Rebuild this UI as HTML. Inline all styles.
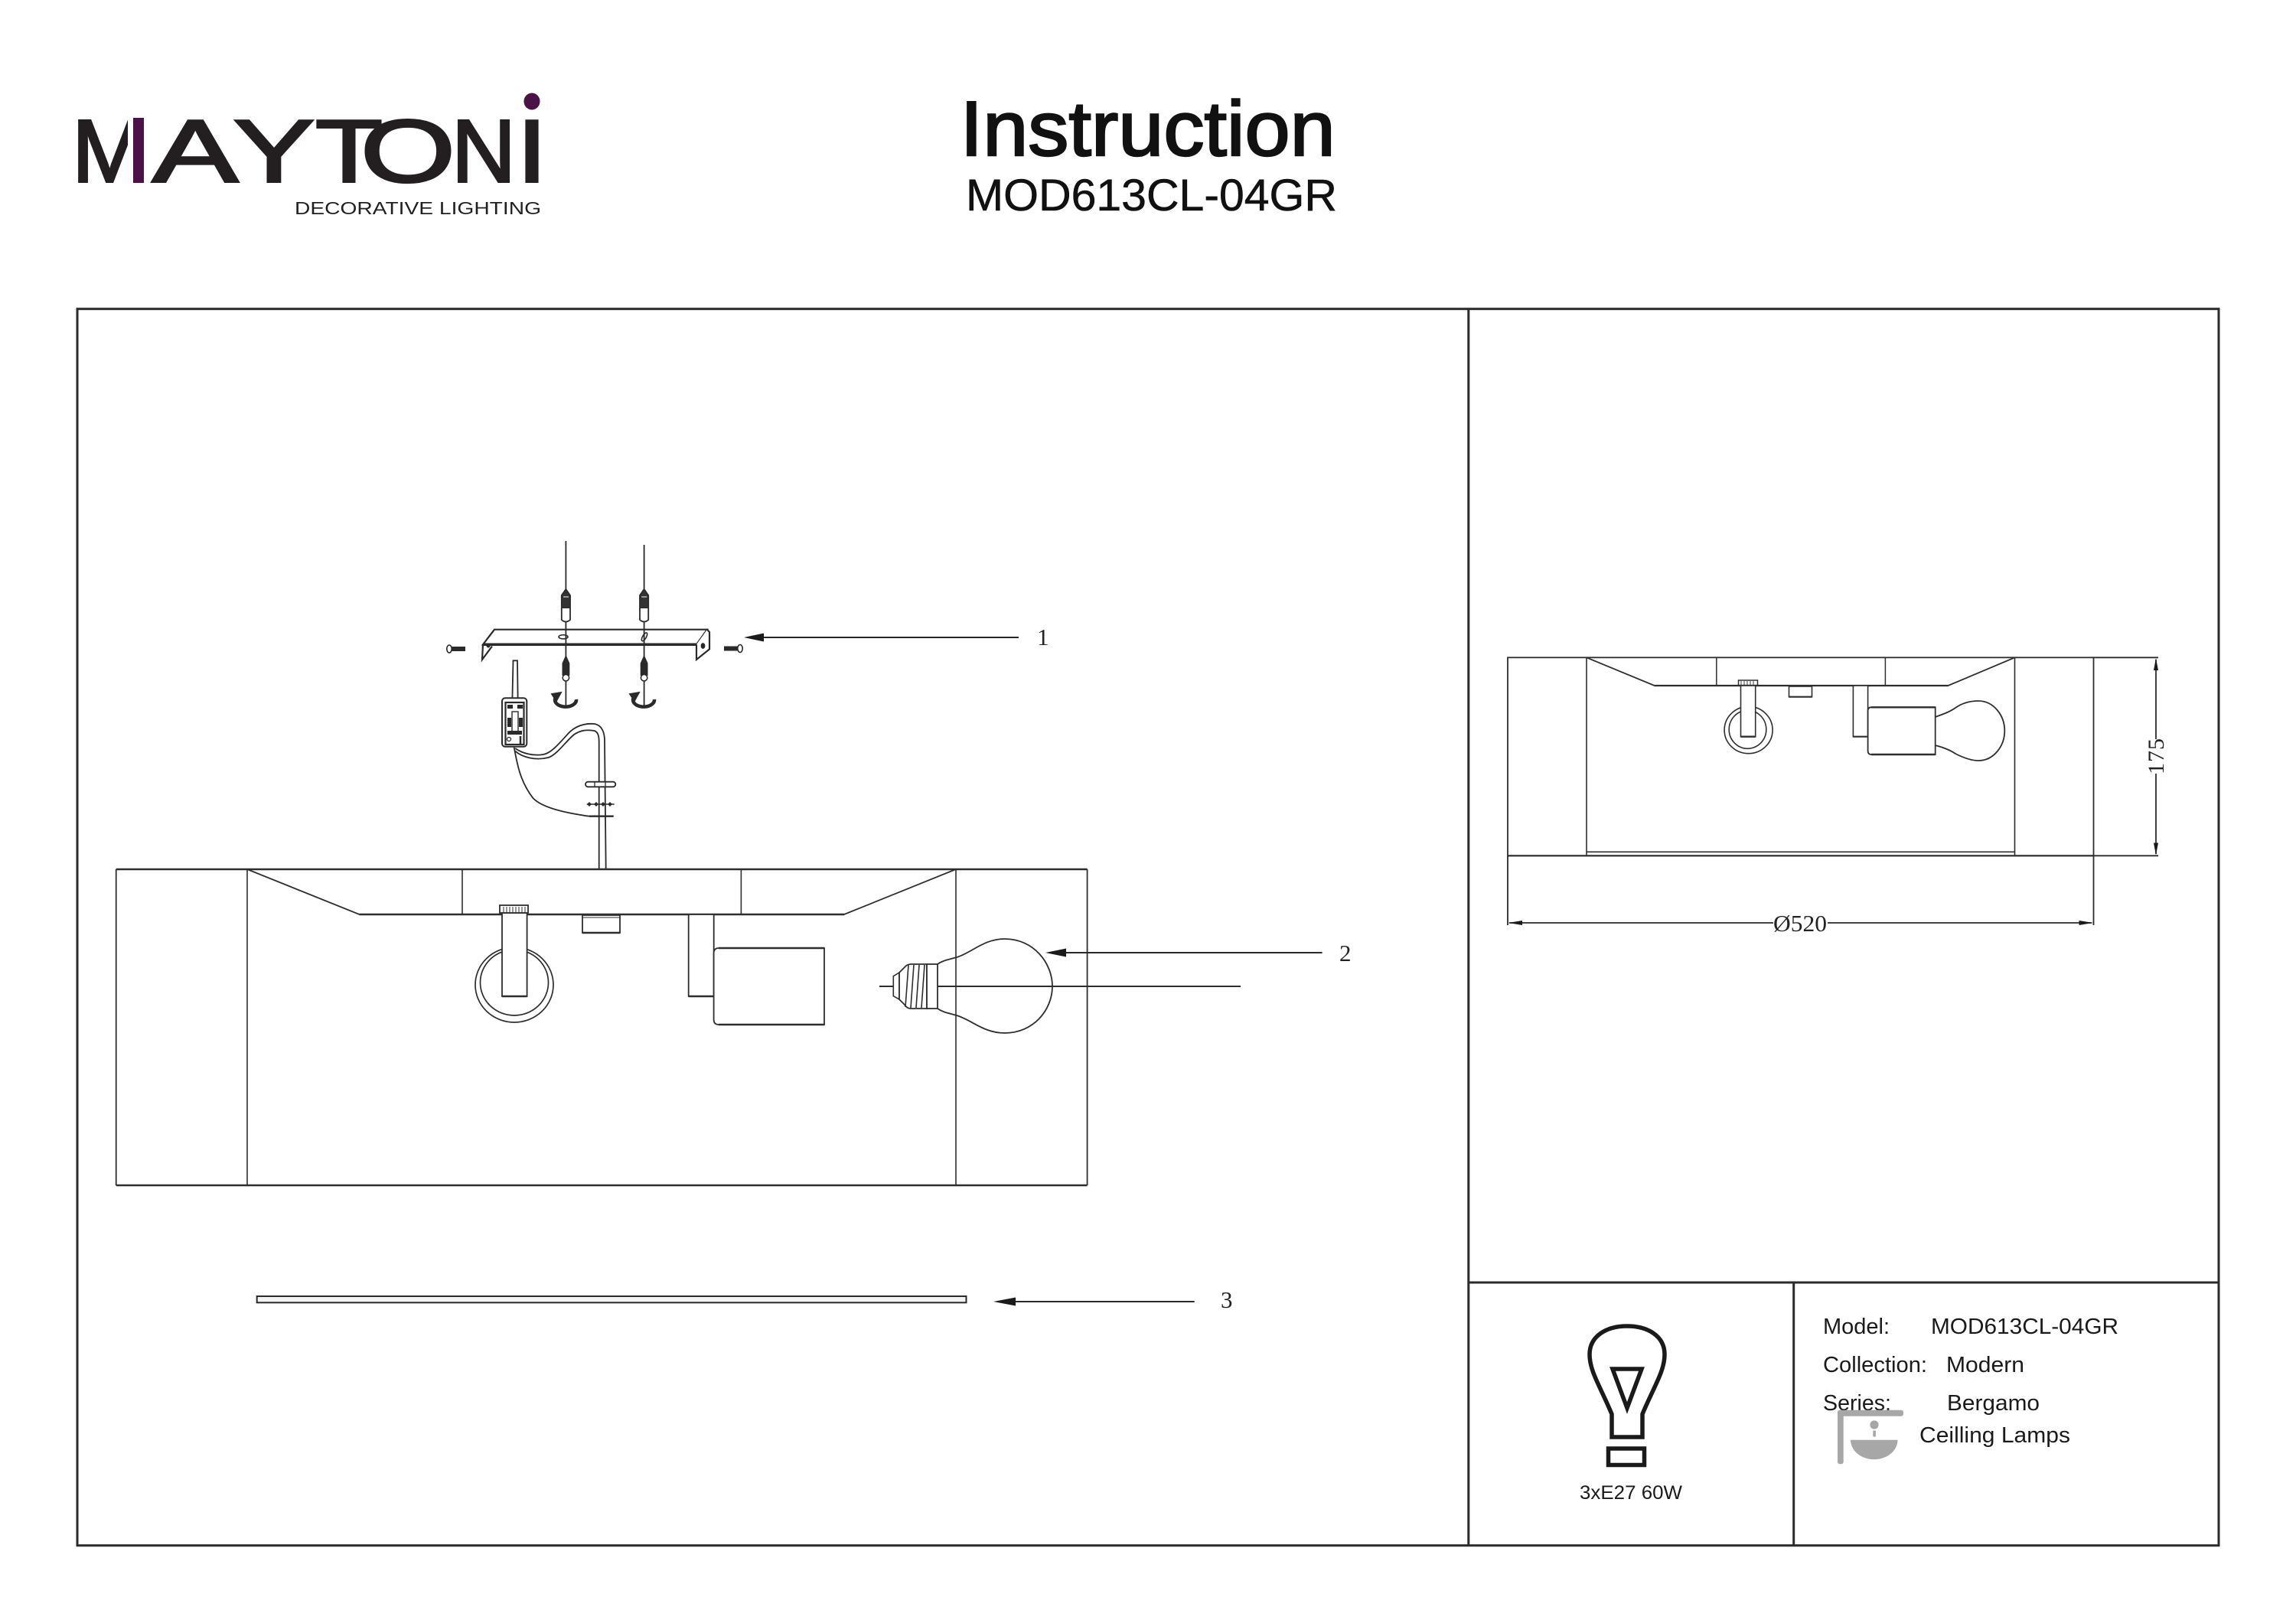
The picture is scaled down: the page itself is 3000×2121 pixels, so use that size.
<!DOCTYPE html>
<html><head><meta charset="utf-8"><title>Instruction MOD613CL-04GR</title>
<style>
html,body{margin:0;padding:0;background:#fff;}
svg{display:block;}
</style></head><body>
<svg width="3000" height="2121" viewBox="0 0 3000 2121" xmlns="http://www.w3.org/2000/svg">
<rect width="3000" height="2121" fill="#fff"/>
<defs>
  <clipPath id="mclip"><rect x="90" y="140" width="77" height="110"/></clipPath>
</defs>

<!-- ===== LOGO ===== -->
<g font-family="'Liberation Sans', sans-serif" font-size="116" fill="#231f20" stroke="#231f20" stroke-width="3" stroke-linejoin="miter">
  <text x="94" y="237.5" textLength="98" lengthAdjust="spacingAndGlyphs" clip-path="url(#mclip)">M</text>
  <text x="199" y="237.5" textLength="112" lengthAdjust="spacingAndGlyphs">A</text>
  <text x="305" y="237.5" textLength="106" lengthAdjust="spacingAndGlyphs">Y</text>
  <text x="412" y="237.5" textLength="88" lengthAdjust="spacingAndGlyphs">T</text>
  <text x="471" y="237.5" textLength="124" lengthAdjust="spacingAndGlyphs">O</text>
  <text x="590" y="237.5" textLength="84" lengthAdjust="spacingAndGlyphs">N</text>
  <text x="675" y="237.5" textLength="40" lengthAdjust="spacingAndGlyphs">I</text>
</g>
<rect x="174" y="154" width="14" height="85" fill="#4a1249"/>
<ellipse cx="695" cy="132.5" rx="10.5" ry="11" fill="#4a1249"/>
<text x="385" y="280" font-family="'Liberation Sans', sans-serif" font-size="23.5" fill="#231f20" textLength="322" lengthAdjust="spacingAndGlyphs">DECORATIVE LIGHTING</text>

<!-- ===== TITLE ===== -->
<text x="1254.7" y="203" font-family="'Liberation Sans', sans-serif" font-size="101" fill="#111" stroke="#111" stroke-width="2.4" textLength="490" lengthAdjust="spacingAndGlyphs">Instruction</text>
<text x="1262" y="275" font-family="'Liberation Sans', sans-serif" font-size="58" fill="#111" stroke="#111" stroke-width="0.6" textLength="485" lengthAdjust="spacingAndGlyphs">MOD613CL-04GR</text>

<!-- ===== FRAME ===== -->
<g stroke="#2b2b2b" stroke-width="3" fill="none">
  <rect x="101" y="403.7" width="2798" height="1616"/>
  <line x1="1918.8" y1="403.7" x2="1918.8" y2="2019.7"/>
  <line x1="1918.8" y1="1676" x2="2899" y2="1676"/>
  <line x1="2343.7" y1="1676" x2="2343.7" y2="2019.7"/>
</g>

<!-- ===== LEFT: EXPLODED MOUNT ===== -->
<g stroke="#2a2a2a" fill="none" stroke-width="1.8">
  <!-- wires -->
  <line x1="739.4" y1="707" x2="739.4" y2="925"/>
  <line x1="841.6" y1="712" x2="841.6" y2="925"/>
  <!-- wall plugs -->
  <polygon points="739.4,770 745,778 745,795 733.8,795 733.8,778" fill="#333"/>
  <path d="M733.8 795 L733.8 810 Q739.4 815 745 810 L745 795" fill="#fff"/>
  <line x1="736" y1="780" x2="743" y2="780" stroke="#fff" stroke-width="1"/>
  <polygon points="841.6,770 847.2,778 847.2,795 836,795 836,778" fill="#333"/>
  <path d="M836 795 L836 810 Q841.6 815 847.2 810 L847.2 795" fill="#fff"/>
  <line x1="838.2" y1="780" x2="845.2" y2="780" stroke="#fff" stroke-width="1"/>

  <!-- bracket -->
  <polygon points="646,822.7 924,822.7 910,842.3 631,842.3" fill="#fff" stroke-width="2.2"/>
  <line x1="631" y1="842.3" x2="910" y2="842.3" stroke-width="3.5"/>
  <polyline points="631,842.3 630,862 643,844.5" stroke-width="2.2"/>
  <polyline points="924,822.7 927,826 927,848.3 910,862 910,842.3" stroke-width="2.2" fill="#fff"/>
  <circle cx="638" cy="844" r="1.6" fill="#222"/>
  <ellipse cx="918.5" cy="844" rx="2" ry="3" fill="#222"/>
  <ellipse cx="736" cy="832.3" rx="6" ry="2.6" fill="#fff" stroke-width="1.6"/>
  <ellipse cx="842" cy="832.3" rx="2.4" ry="6" transform="rotate(30 842 832.3)" fill="#fff" stroke-width="1.6"/>
  <line x1="739.4" y1="822.7" x2="739.4" y2="842.3"/>
  <line x1="841.6" y1="822.7" x2="841.6" y2="842.3"/>

  <!-- side screws -->
  <rect x="589" y="845" width="19" height="6" fill="#2a2a2a" stroke="none"/>
  <ellipse cx="587" cy="848" rx="3.2" ry="5" fill="#fff" stroke-width="1.6"/>
  <rect x="946" y="844.5" width="19" height="6" fill="#2a2a2a" stroke="none"/>
  <ellipse cx="967" cy="847.5" rx="3.2" ry="5" fill="#fff" stroke-width="1.6"/>

  <!-- screws below -->
  <polygon points="739.4,858 743.4,867 743.4,882 735.4,882 735.4,867" fill="#2a2a2a"/>
  <circle cx="739.4" cy="885.7" r="4.2" fill="#fff" stroke-width="1.6"/>
  <polygon points="841.6,858 845.6,867 845.6,882 837.6,882 837.6,867" fill="#2a2a2a"/>
  <circle cx="841.6" cy="885.7" r="4.2" fill="#fff" stroke-width="1.6"/>

  <!-- hooks (rotation arrows) -->
  <path d="M727 910 A14 9 0 1 0 753 914" stroke-width="4.5"/>
  <polygon points="721,907 733,905 727,916" fill="#2a2a2a"/>
  <path d="M829 910 A14 9 0 1 0 855 914" stroke-width="4.5"/>
  <polygon points="823,907 835,905 829,916" fill="#2a2a2a"/>

  <!-- terminal block wires up -->
  <polyline points="669.3,918 670.5,863.3 676,863.3 676.7,918"/>
  <!-- terminal block -->
  <rect x="656" y="912.3" width="32.3" height="63.4" rx="4" fill="#fff" stroke-width="2"/>
  <rect x="660.5" y="918" width="24" height="55" stroke-width="2.2"/>
  <rect x="663" y="921" width="7" height="5" fill="#2a2a2a" stroke="none"/>
  <rect x="676" y="921" width="7" height="5" fill="#2a2a2a" stroke="none"/>
  <rect x="663" y="938" width="5" height="12" fill="#2a2a2a" stroke="none"/>
  <rect x="678" y="938" width="5" height="12" fill="#2a2a2a" stroke="none"/>
  <rect x="669" y="930" width="8" height="26" fill="#fff" stroke-width="1.4"/>
  <rect x="663" y="955" width="19" height="5" fill="#2a2a2a" stroke="none"/>
  <circle cx="665" cy="966" r="2.5" fill="#fff" stroke-width="1.2"/>
  <line x1="680" y1="962" x2="680" y2="973" stroke-width="2.5"/>

  <!-- cable -->
  <path d="M673.3 978 C683 985 697 988 710 986 C722 984 735 966 745 956 C754 948 765 945 777 946 C787 948 790 958 790 968 L791.7 1136.7"/>
  <path d="M673.3 981.7 C683 990 700 994 716.7 990 C728 986 740 968 750 960 C757 955 766 953 776.7 955 C782 957 782.7 963 782.7 970 L782.7 1136.7"/>
  <path d="M671.7 976.7 C676 1000 680 1022 696.7 1043.3 C708 1055 735 1062 770 1066.7"/>

  <!-- clamp nut -->
  <rect x="765" y="1021.7" width="39.3" height="6.6" rx="3.3" fill="#fff"/>
  <line x1="777" y1="1021.7" x2="777" y2="1028.3" stroke-width="1.3"/>
  <line x1="791" y1="1021.7" x2="791" y2="1028.3" stroke-width="1.3"/>
  <!-- washer -->
  <line x1="766.7" y1="1051" x2="802.7" y2="1051" stroke-width="1.4"/>
  <g fill="#2a2a2a" stroke="none">
    <polygon points="770,1048 773,1051 770,1054 767,1051"/>
    <polygon points="779,1048 782,1051 779,1054 776,1051"/>
    <polygon points="788,1048 791,1051 788,1054 785,1051"/>
    <polygon points="797,1048 800,1051 797,1054 794,1051"/>
  </g>
  <line x1="770" y1="1066.7" x2="801.7" y2="1066.7" stroke-width="2.4"/>
</g>

<!-- arrow 1 -->
<line x1="990" y1="833" x2="1331" y2="833" stroke="#2a2a2a" stroke-width="2"/>
<polygon points="972,833 998,827.5 998,838.5" fill="#1a1a1a"/>
<text x="1355" y="843" font-family="'Liberation Serif', serif" font-size="31" fill="#222">1</text>

<!-- ===== LEFT: LAMP BODY ===== -->
<g stroke="#2e2e2e" fill="none" stroke-width="2">
  <line x1="151.7" y1="1136" x2="1420.6" y2="1136" stroke-width="2.4"/>
  <line x1="151.7" y1="1549" x2="1420.6" y2="1549" stroke-width="2.4"/>
  <line x1="151.7" y1="1136" x2="151.7" y2="1549" stroke-width="1.8"/>
  <line x1="1420.6" y1="1136" x2="1420.6" y2="1549" stroke-width="1.8"/>
  <line x1="323" y1="1136" x2="323" y2="1549" stroke-width="1.6"/>
  <line x1="1249" y1="1136" x2="1249" y2="1549" stroke-width="1.6"/>
  <polyline points="323,1136 469.5,1195 1103,1195 1249,1136" stroke-width="1.8"/>
  <line x1="469.5" y1="1195" x2="1103" y2="1195" stroke-width="2.4"/>
  <line x1="604" y1="1136" x2="604" y2="1195" stroke-width="1.6"/>
  <line x1="968.4" y1="1136" x2="968.4" y2="1195" stroke-width="1.6"/>

  <!-- left socket holder with ring -->
  <ellipse cx="672" cy="1287" rx="51" ry="49" stroke-width="1.7"/>
  <ellipse cx="672" cy="1284" rx="44.5" ry="43" stroke-width="1.7"/>
  <rect x="656" y="1193" width="32.6" height="109" fill="#fff" stroke-width="1.8"/>
  <line x1="656" y1="1302" x2="688.6" y2="1302" stroke-width="2.6"/>
  <rect x="653" y="1183" width="37" height="10" fill="#fff" stroke-width="1.8"/>
  <g stroke-width="1">
    <line x1="658" y1="1185" x2="658" y2="1193"/><line x1="662" y1="1185" x2="662" y2="1193"/>
    <line x1="666" y1="1185" x2="666" y2="1193"/><line x1="670" y1="1185" x2="670" y2="1193"/>
    <line x1="674" y1="1185" x2="674" y2="1193"/><line x1="678" y1="1185" x2="678" y2="1193"/>
    <line x1="682" y1="1185" x2="682" y2="1193"/><line x1="686" y1="1185" x2="686" y2="1193"/>
  </g>

  <!-- small box -->
  <rect x="761" y="1196" width="49" height="23" fill="#fff" stroke-width="1.8"/>
  <line x1="761" y1="1219" x2="810" y2="1219" stroke-width="2.6"/>
  <line x1="761" y1="1199" x2="810" y2="1199" stroke-width="1"/>

  <!-- right holder bar -->
  <rect x="899.7" y="1195" width="33" height="107" fill="#fff" stroke-width="1.8"/>
  <line x1="899.7" y1="1302" x2="932.7" y2="1302" stroke-width="2.6"/>
  <!-- socket cylinder -->
  <path d="M1077 1239 L939 1239 Q932.6 1239 932.6 1246 L932.6 1332 Q932.6 1339 939 1339 L1077 1339 Z" fill="#fff" stroke-width="1.8"/>
  <line x1="939" y1="1239" x2="1077" y2="1239" stroke-width="2.6"/>
  <line x1="939" y1="1339" x2="1077" y2="1339" stroke-width="2.6"/>

  <!-- axis line -->
  <line x1="1149" y1="1289" x2="1621" y2="1289" stroke-width="2"/>

  <!-- bulb -->
  <polygon points="1167.3,1275.7 1175,1271 1175,1306 1167.3,1301.7" fill="#fff" stroke-width="1.6"/>
  <path d="M1175 1271 L1183 1263 Q1186 1260 1190 1260 L1211 1260 L1211 1318 L1190 1318 Q1185 1318 1182 1313 L1175 1306 Z" fill="#fff" stroke-width="1.8"/>
  <g stroke-width="1.6">
    <line x1="1187" y1="1261" x2="1183" y2="1316"/>
    <line x1="1194" y1="1261" x2="1190" y2="1317"/>
    <line x1="1201" y1="1261" x2="1197" y2="1317"/>
    <line x1="1208" y1="1261" x2="1204" y2="1317"/>
  </g>
  <rect x="1211" y="1260" width="14" height="58" fill="#fff" stroke-width="1.8"/>
  <path d="M1225 1260 C1232 1255 1240 1254 1250 1251 C1270 1245 1285 1227 1313 1227 C1350 1227 1375 1258 1375 1289 C1375 1320 1350 1350 1313 1350 C1285 1350 1270 1333 1250 1327 C1240 1324 1232 1323 1225 1318" stroke-width="1.8"/>
  <line x1="1225" y1="1289" x2="1375" y2="1289" stroke-width="2"/>
</g>

<!-- arrow 2 -->
<line x1="1385" y1="1245" x2="1727.6" y2="1245" stroke="#2a2a2a" stroke-width="2"/>
<polygon points="1366,1245 1393,1239.5 1393,1250.5" fill="#1a1a1a"/>
<text x="1750" y="1256" font-family="'Liberation Serif', serif" font-size="31" fill="#222">2</text>

<!-- item 3 -->
<rect x="335.7" y="1694" width="926.8" height="8.3" fill="#f3f3f3" stroke="#2a2a2a" stroke-width="2"/>
<line x1="1315" y1="1701" x2="1560.7" y2="1701" stroke="#2a2a2a" stroke-width="2"/>
<polygon points="1298,1701 1327,1695.5 1327,1706.5" fill="#1a1a1a"/>
<text x="1595" y="1709" font-family="'Liberation Serif', serif" font-size="31" fill="#222">3</text>

<!-- ===== RIGHT: DIMENSIONED VIEW ===== -->
<g stroke="#2e2e2e" fill="none" stroke-width="1.8">
  <rect x="1970" y="859.3" width="765.5" height="259"/>
  <line x1="2073" y1="859.3" x2="2073" y2="1118.3" stroke-width="1.6"/>
  <line x1="2632.5" y1="859.3" x2="2632.5" y2="1118.3" stroke-width="1.6"/>
  <polyline points="2073,859.3 2161.8,896 2545.5,896 2632.5,859.3"/>
  <line x1="2161.8" y1="896" x2="2545.5" y2="896" stroke-width="2.2"/>
  <line x1="2242.8" y1="859.3" x2="2242.8" y2="896" stroke-width="1.5"/>
  <line x1="2463.4" y1="859.3" x2="2463.4" y2="896" stroke-width="1.5"/>
  <line x1="2073" y1="1113.3" x2="2632.5" y2="1113.3" stroke-width="1.6"/>
  <line x1="1970" y1="1118.3" x2="2735.5" y2="1118.3" stroke-width="2.2"/>

  <!-- ring + bar -->
  <ellipse cx="2284.6" cy="954" rx="31.5" ry="30.7" stroke-width="1.6"/>
  <ellipse cx="2283.5" cy="953.3" rx="24.3" ry="25" stroke-width="1.6"/>
  <rect x="2274.5" y="896" width="19.2" height="66.7" fill="#fff" stroke-width="1.6"/>
  <line x1="2274.5" y1="962.7" x2="2293.7" y2="962.7" stroke-width="2.4"/>
  <rect x="2271.5" y="889" width="25" height="6.5" fill="#fff" stroke-width="1.5"/>
  <g stroke-width="0.9">
    <line x1="2275" y1="890" x2="2275" y2="895"/><line x1="2279" y1="890" x2="2279" y2="895"/>
    <line x1="2283" y1="890" x2="2283" y2="895"/><line x1="2287" y1="890" x2="2287" y2="895"/>
    <line x1="2291" y1="890" x2="2291" y2="895"/>
  </g>
  <!-- small box -->
  <rect x="2337.5" y="897" width="30" height="13.7" fill="#fff" stroke-width="1.6"/>
  <line x1="2337.5" y1="910.7" x2="2367.5" y2="910.7" stroke-width="2.2"/>
  <!-- right bar -->
  <rect x="2421.4" y="896" width="19.2" height="66.7" fill="#fff" stroke-width="1.6"/>
  <line x1="2421.4" y1="962.7" x2="2440.6" y2="962.7" stroke-width="2.2"/>
  <!-- socket -->
  <path d="M2528.7 924.3 L2445 924.3 Q2440.6 924.3 2440.6 929 L2440.6 981 Q2440.6 986 2445 986 L2528.7 986 Z" fill="#fff" stroke-width="1.8"/>
  <line x1="2445" y1="924.3" x2="2528.7" y2="924.3" stroke-width="2.4"/>
  <line x1="2445" y1="986" x2="2528.7" y2="986" stroke-width="2.4"/>
  <!-- bulb -->
  <path d="M2528.7 937 C2540 933 2548 930 2555 925 C2565 918 2575 916 2585 916 C2605 916 2619.3 935 2619.3 955 C2619.3 975 2605 994 2585 994 C2575 994 2565 990 2555 985 C2548 980 2540 977 2528.7 974" stroke-width="1.8"/>
</g>

<!-- dimension 175 -->
<g stroke="#2a2a2a" stroke-width="1.8" fill="none">
  <line x1="2735.5" y1="859.3" x2="2820" y2="859.3"/>
  <line x1="2735.5" y1="1118.3" x2="2820" y2="1118.3"/>
  <line x1="2817" y1="862" x2="2817" y2="966"/>
  <line x1="2817" y1="1011" x2="2817" y2="1116"/>
  <!-- Ø520 -->
  <line x1="1970" y1="1118.3" x2="1970" y2="1209"/>
  <line x1="2735.5" y1="1118.3" x2="2735.5" y2="1209"/>
  <line x1="1972" y1="1206" x2="2317" y2="1206"/>
  <line x1="2388" y1="1206" x2="2733" y2="1206"/>
</g>
<g fill="#1a1a1a">
  <polygon points="2817,860 2814,876 2820,876"/>
  <polygon points="2817,1117.5 2814,1101.5 2820,1101.5"/>
  <polygon points="1970.5,1206 1989,1203 1989,1209"/>
  <polygon points="2735,1206 2716.5,1203 2716.5,1209"/>
</g>
<text transform="translate(2817,988) rotate(-90)" x="0" y="10" text-anchor="middle" font-family="'Liberation Serif', serif" font-size="30" fill="#222" letter-spacing="1">175</text>
<text x="2317" y="1217" font-family="'Liberation Serif', serif" font-size="31" fill="#222" textLength="70" lengthAdjust="spacingAndGlyphs">Ø520</text>

<!-- ===== BOTTOM LEFT CELL: BULB ICON ===== -->
<g stroke="#1a1a1a" stroke-width="5.5" fill="none" stroke-linejoin="miter">
  <path d="M2106 1878 L2106 1848 C2091 1812 2077 1792 2077 1770 C2077 1746 2099 1733 2126 1733 C2153 1733 2175 1746 2175 1770 C2175 1792 2161 1812 2146 1848 L2146 1878 Z"/>
  <polygon points="2107,1789 2145,1789 2126,1840"/>
  <rect x="2101.5" y="1893" width="47" height="21.5"/>
</g>
<text x="2064" y="1959" font-family="'Liberation Sans', sans-serif" font-size="25" fill="#1a1a1a" textLength="134" lengthAdjust="spacingAndGlyphs">3xE27 60W</text>

<!-- ===== BOTTOM RIGHT CELL: INFO ===== -->
<g font-family="'Liberation Sans', sans-serif" font-size="29" fill="#1a1a1a">
  <text x="2382" y="1743" textLength="87" lengthAdjust="spacingAndGlyphs">Model:</text>
  <text x="2523" y="1743" textLength="245" lengthAdjust="spacingAndGlyphs">MOD613CL-04GR</text>
  <text x="2382" y="1793" textLength="136" lengthAdjust="spacingAndGlyphs">Collection:</text>
  <text x="2543" y="1793" textLength="102" lengthAdjust="spacingAndGlyphs">Modern</text>
  <text x="2382" y="1843" textLength="89" lengthAdjust="spacingAndGlyphs">Series:</text>
  <text x="2544" y="1843" textLength="121" lengthAdjust="spacingAndGlyphs">Bergamo</text>
  <text x="2508" y="1885" textLength="197" lengthAdjust="spacingAndGlyphs">Ceilling Lamps</text>
</g>
<!-- ceiling lamp icon (gray) -->
<g fill="#a7a7a7">
  <rect x="2401" y="1842.7" width="7.7" height="70.6" rx="3"/>
  <rect x="2401" y="1842.7" width="86" height="8" rx="3"/>
  <circle cx="2449" cy="1862" r="5.6"/>
  <rect x="2447.3" y="1869.5" width="3.6" height="8"/>
  <path d="M2418 1881.7 L2479.5 1881.7 A30.75 25.5 0 0 1 2418 1881.7 Z"/>
</g>
</svg>
</body></html>
